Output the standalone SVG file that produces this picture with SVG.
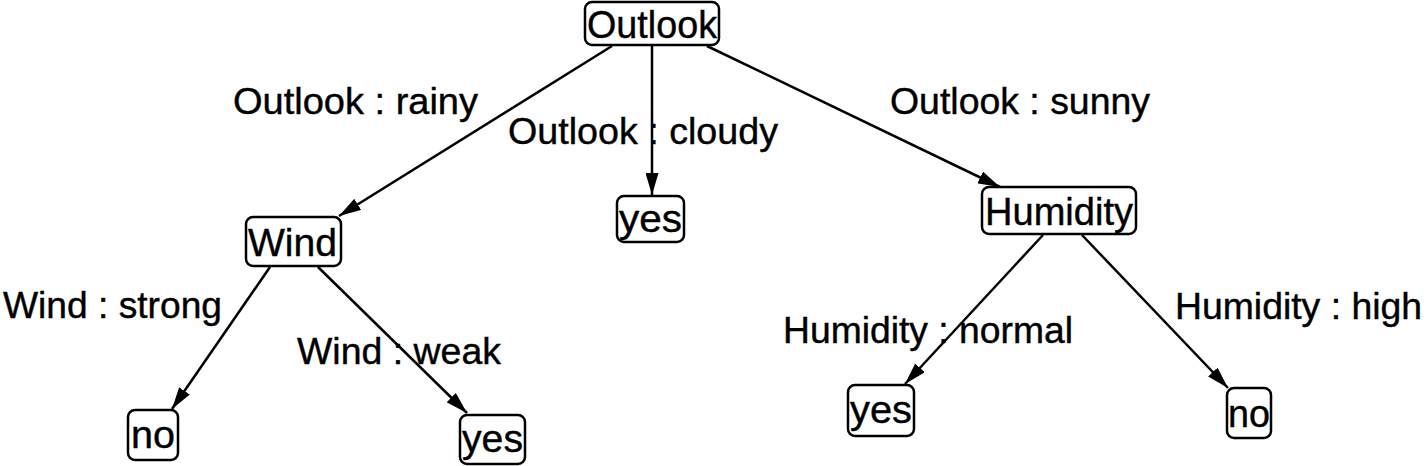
<svg xmlns="http://www.w3.org/2000/svg" width="1425" height="466" viewBox="0 0 1425 466">
<style>
  .box { fill: #fff; stroke: #000; stroke-width: 2.5; }
  .t { font-family: "Liberation Sans", Arial, sans-serif; font-size: 36px; fill: #000; stroke: #000; stroke-width: 0.4; }
  .n { font-size: 38px; }
  .e { stroke: #000; stroke-width: 2.5; fill: none; marker-end: url(#arr); }
</style>
<defs>
  <marker id="arr" viewBox="0 0 22 13" refX="22" refY="6.5" markerWidth="22" markerHeight="13" markerUnits="userSpaceOnUse" orient="auto">
    <path d="M0,0 L22,6.5 L0,13 Z" fill="#000"/>
  </marker>
</defs>
<rect width="1425" height="466" fill="#fff"/>
<g id="connectors">
  <line class="e" x1="612" y1="46" x2="339" y2="216"/>
  <line class="e" x1="652" y1="46" x2="652" y2="195"/>
  <line class="e" x1="707" y1="46" x2="1000" y2="187"/>
  <line class="e" x1="270" y1="267" x2="172" y2="409"/>
  <line class="e" x1="318" y1="267" x2="467" y2="413"/>
  <line class="e" x1="1043" y1="235" x2="905" y2="384"/>
  <line class="e" x1="1082" y1="235" x2="1228" y2="388"/>
  <text class="t" x="233" y="114" textLength="245" lengthAdjust="spacingAndGlyphs">Outlook : rainy</text>
  <text class="t" x="508" y="144" textLength="270" lengthAdjust="spacingAndGlyphs">Outlook : cloudy</text>
  <text class="t" x="890" y="114" textLength="260" lengthAdjust="spacingAndGlyphs">Outlook : sunny</text>
  <text class="t" x="3" y="318" textLength="219" lengthAdjust="spacingAndGlyphs">Wind : strong</text>
  <text class="t" x="297" y="364" textLength="204" lengthAdjust="spacingAndGlyphs">Wind : weak</text>
  <text class="t" x="783" y="343" textLength="290" lengthAdjust="spacingAndGlyphs">Humidity : normal</text>
  <text class="t" x="1175" y="319" textLength="247" lengthAdjust="spacingAndGlyphs">Humidity : high</text>
</g>
<g id="node-outlook">
  <rect class="box" x="585" y="2" width="134" height="43" rx="7"/>
  <text class="t n" x="587" y="38" textLength="130" lengthAdjust="spacingAndGlyphs">Outlook</text>
</g>
<g id="node-wind">
  <rect class="box" x="246" y="217" width="95" height="49" rx="7"/>
  <text class="t n" x="248" y="256" textLength="89" lengthAdjust="spacingAndGlyphs">Wind</text>
</g>
<g id="node-yes-cloudy">
  <rect class="box" x="617" y="196" width="67" height="46" rx="7"/>
  <text class="t n" x="619" y="232" textLength="63" lengthAdjust="spacingAndGlyphs">yes</text>
</g>
<g id="node-humidity">
  <rect class="box" x="982" y="187" width="154" height="47" rx="7"/>
  <text class="t n" x="985" y="225" textLength="148" lengthAdjust="spacingAndGlyphs">Humidity</text>
</g>
<g id="node-no-strong">
  <rect class="box" x="128" y="410" width="50" height="50" rx="7"/>
  <text class="t n" x="131" y="448" textLength="44" lengthAdjust="spacingAndGlyphs">no</text>
</g>
<g id="node-yes-weak">
  <rect class="box" x="460" y="415" width="65" height="49" rx="7"/>
  <text class="t n" x="462" y="452" textLength="61" lengthAdjust="spacingAndGlyphs">yes</text>
</g>
<g id="node-yes-normal">
  <rect class="box" x="848" y="385" width="66" height="51" rx="7"/>
  <text class="t n" x="850" y="423" textLength="62" lengthAdjust="spacingAndGlyphs">yes</text>
</g>
<g id="node-no-high">
  <rect class="box" x="1227" y="388" width="44" height="50" rx="7"/>
  <text class="t n" x="1228" y="427" textLength="42" lengthAdjust="spacingAndGlyphs">no</text>
</g>
</svg>
